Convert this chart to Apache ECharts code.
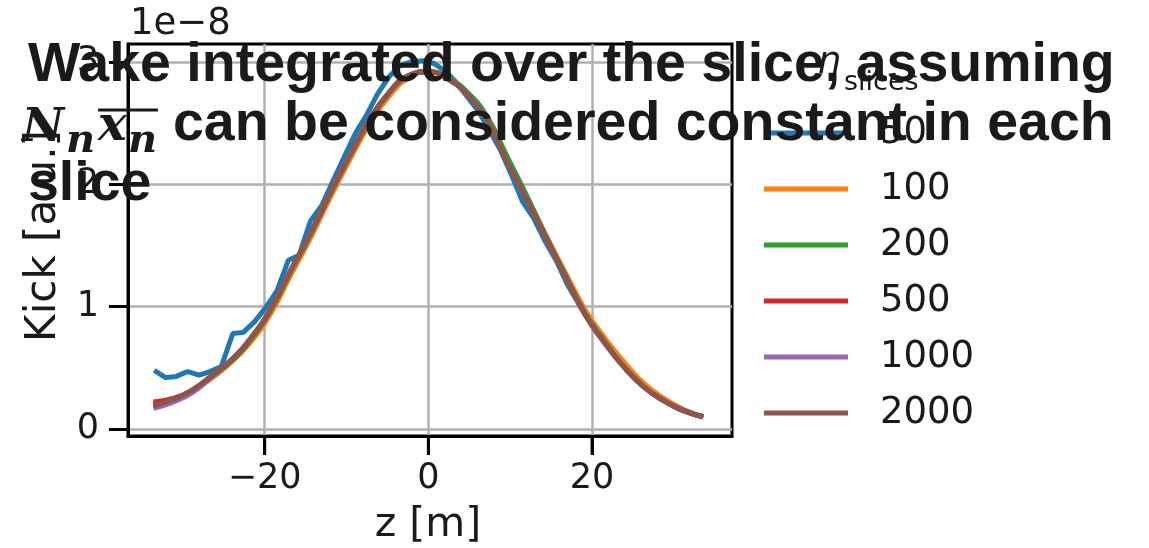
<!DOCTYPE html>
<html>
<head>
<meta charset="utf-8">
<script src="https://cdn.jsdelivr.net/npm/echarts@6/dist/echarts.min.js"></script>
<style>
  html, body { margin: 0; padding: 0; background: #fff; }
  #chart { width: 1149px; height: 548px; }
</style>
</head>
<body>
<div id="chart"></div>
<script>
// Kick along the bunch for several slicings (values in units of 1e-8)
const sliceCounts = ['50', '100', '200', '500', '1000', '2000'];
const seriesColors = ['#1f77b4', '#ff7f0e', '#2ca02c', '#d62728', '#9467bd', '#8c564b'];

// 50 slices: slice centres [m] and kick
const z50 = [-33.5, -32.1, -30.8, -29.4, -28.0, -26.7, -25.3, -23.9, -22.6, -21.2,
             -19.8, -18.5, -17.1, -15.8, -14.4, -13.0, -11.7, -10.3, -8.9, -7.6,
             -6.2, -4.8, -3.5, -2.1, -0.7, 0.6, 2.0, 3.3, 4.7, 6.1,
             7.4, 8.8, 10.2, 11.5, 12.9, 14.3, 15.6, 17.0, 18.4, 19.7,
             21.1, 22.5, 23.8, 25.2, 26.6, 27.9, 29.3, 30.7, 32.0, 33.5];
const kick50 = [0.48, 0.42, 0.43, 0.47, 0.44, 0.47, 0.51, 0.78, 0.79, 0.88,
                1.00, 1.13, 1.38, 1.42, 1.70, 1.83, 2.02, 2.22, 2.42, 2.56,
                2.74, 2.88, 2.97, 3.00, 3.01, 2.99, 2.93, 2.84, 2.72, 2.60,
                2.45, 2.28, 2.07, 1.86, 1.72, 1.53, 1.38, 1.18, 1.02, 0.88,
                0.75, 0.62, 0.52, 0.42, 0.34, 0.28, 0.21, 0.16, 0.13, 0.10];

// finer slicings, sampled on a common set of positions [m]
const zFine = [-33.6, -31.2, -28.8, -26.4, -24.0, -21.6, -19.2, -16.8, -14.4, -12.0,
               -9.6, -7.2, -4.8, -2.4, 0.0, 2.4, 4.8, 7.2, 9.6, 12.0,
               14.4, 16.8, 19.2, 21.6, 24.0, 26.4, 28.8, 31.2, 33.6];
const kick100 = [0.20, 0.24, 0.31, 0.42, 0.55, 0.72, 0.95, 1.26, 1.56, 1.89,
                 2.20, 2.49, 2.72, 2.87, 2.92, 2.87, 2.74, 2.53, 2.21, 1.90,
                 1.58, 1.27, 0.97, 0.74, 0.54, 0.37, 0.25, 0.16, 0.10];
const kick200 = [0.20, 0.24, 0.32, 0.43, 0.56, 0.74, 0.98, 1.29, 1.59, 1.92,
                 2.23, 2.52, 2.75, 2.89, 2.92, 2.87, 2.75, 2.55, 2.23, 1.91,
                 1.57, 1.25, 0.94, 0.71, 0.50, 0.34, 0.23, 0.15, 0.10];
const kick500 = [0.22, 0.25, 0.32, 0.44, 0.57, 0.75, 0.99, 1.30, 1.60, 1.93,
                 2.24, 2.53, 2.75, 2.89, 2.92, 2.86, 2.73, 2.52, 2.19, 1.88,
                 1.56, 1.24, 0.93, 0.70, 0.50, 0.34, 0.23, 0.15, 0.10];
const kick1000 = [0.17, 0.22, 0.30, 0.43, 0.57, 0.75, 0.99, 1.30, 1.60, 1.93,
                  2.24, 2.53, 2.75, 2.89, 2.92, 2.86, 2.73, 2.52, 2.19, 1.88,
                  1.56, 1.24, 0.93, 0.70, 0.50, 0.34, 0.23, 0.15, 0.10];
const kick2000 = [0.19, 0.24, 0.32, 0.44, 0.57, 0.75, 0.99, 1.30, 1.60, 1.93,
                  2.24, 2.53, 2.75, 2.89, 2.92, 2.86, 2.73, 2.52, 2.19, 1.88,
                  1.56, 1.24, 0.93, 0.70, 0.50, 0.34, 0.23, 0.15, 0.10];

const xTicks = [-20, 0, 20];
const yTicks = [0, 1, 2, 3];
const X_RANGE = [-36.7, 37.1];
const Y_RANGE = [-0.057, 3.147];

const pairs = (xs, ys) => xs.map((x, i) => [x, ys[i]]);
const seriesData = [
  pairs(z50, kick50),
  pairs(zFine, kick100),
  pairs(zFine, kick200),
  pairs(zFine, kick500),
  pairs(zFine, kick1000),
  pairs(zFine, kick2000)
];

const TXT = '#1a1a1a';
const SANS = 'DejaVu Sans';
const TICK_LEN = 19;
const minus = v => (v < 0 ? '\u2212' + Math.abs(v) : String(v));

const titleFont = 'bold 55.5px "Liberation Sans", Arial, sans-serif';
const mathFont = s => 'italic bold ' + s + 'px "DejaVu Serif", serif';

const frameLine = { show: true, onZero: false, lineStyle: { color: '#000', width: 3 } };
const tickStyle = { color: '#000', width: 3 };

const chart = echarts.init(document.getElementById('chart'), null, { renderer: 'canvas' });
chart.setOption({
  animation: false,
  backgroundColor: '#fff',
  grid: {
    left: 128, top: 44, width: 604, height: 392,
    show: true, borderColor: '#000', borderWidth: 3, backgroundColor: 'transparent'
  },
  xAxis: {
    type: 'value', position: 'bottom', min: X_RANGE[0], max: X_RANGE[1],
    axisLine: frameLine,
    axisTick: { show: true, inside: false, customValues: xTicks, length: TICK_LEN, lineStyle: tickStyle },
    axisLabel: { customValues: xTicks, formatter: minus, fontFamily: SANS, fontSize: 35, color: TXT, margin: 25 },
    splitLine: { show: true, lineStyle: { color: '#b0b0b0', width: 2.5 } }
  },
  yAxis: {
    type: 'value', position: 'left', min: Y_RANGE[0], max: Y_RANGE[1],
    axisLine: frameLine,
    axisTick: { show: true, inside: false, customValues: yTicks, length: TICK_LEN, lineStyle: tickStyle },
    axisLabel: { customValues: yTicks, formatter: minus, fontFamily: SANS, fontSize: 35, color: TXT, margin: 29 },
    splitLine: { show: true, lineStyle: { color: '#b0b0b0', width: 2.5 } }
  },
  legend: {
    orient: 'vertical', left: 764, top: 114.5, padding: 0,
    itemGap: 19, itemWidth: 84, itemHeight: 5, icon: 'rect',
    selectedMode: false,
    textStyle: { fontFamily: SANS, fontSize: 37, lineHeight: 37, color: TXT, padding: [0, 0, 0, 27] },
    data: sliceCounts
  },
  series: sliceCounts.map((name, i) => ({
    name,
    type: 'line',
    data: seriesData[i],
    showSymbol: false,
    smooth: i > 0,
    color: seriesColors[i],
    lineStyle: { width: 5, color: seriesColors[i] }
  })),
  graphic: [
    // axis annotations
    { id: 'exp', type: 'text', z: 1, x: 130, y: 24, style: { text: '1e\u22128', font: '37px "DejaVu Sans"', fill: TXT, align: 'left', verticalAlign: 'middle' } },
    { id: 'ylab', type: 'text', z: 1, x: 44, y: 236, rotation: Math.PI / 2, style: { text: 'Kick [a.u.]', font: '42px "DejaVu Sans"', fill: TXT, align: 'center', verticalAlign: 'middle' } },
    { id: 'xlab', type: 'text', z: 1, x: 428, y: 525, style: { text: 'z [m]', font: '41px "DejaVu Sans"', fill: TXT, align: 'center', verticalAlign: 'middle' } },
    // legend heading n_slices
    { id: 'lt1', type: 'text', z: 5, x: 818, y: 63, style: { text: 'n', font: 'italic 37px "DejaVu Sans"', fill: TXT, align: 'left', verticalAlign: 'middle' } },
    { id: 'lt2', type: 'text', z: 5, x: 844, y: 82.5, style: { text: 'slices', font: '27px "DejaVu Sans"', fill: TXT, align: 'left', verticalAlign: 'middle' } },
    // title, three lines
    { id: 't1', type: 'text', z: 100, x: 28, y: 66, style: { text: 'Wake integrated over the slice, assuming', font: titleFont, fill: TXT, align: 'left', verticalAlign: 'middle' } },
    { id: 'm1', type: 'text', z: 100, x: 22, y: 129, style: { text: 'N', font: mathFont(46), fill: TXT, align: 'left', verticalAlign: 'middle' } },
    { id: 'm2', type: 'text', z: 100, x: 66, y: 142, style: { text: 'n', font: mathFont(40), fill: TXT, align: 'left', verticalAlign: 'middle' } },
    { id: 'm3', type: 'text', z: 100, x: 98, y: 128, style: { text: 'x', font: mathFont(48), fill: TXT, align: 'left', verticalAlign: 'middle' } },
    { id: 'm4', type: 'text', z: 100, x: 128, y: 142, style: { text: 'n', font: mathFont(40), fill: TXT, align: 'left', verticalAlign: 'middle' } },
    { id: 'm5', type: 'line', z: 100, shape: { x1: 98, y1: 110, x2: 158, y2: 110 }, style: { stroke: TXT, lineWidth: 3 } },
    { id: 't2', type: 'text', z: 100, x: 173, y: 125, style: { text: 'can be considered constant in each', font: titleFont, fill: TXT, align: 'left', verticalAlign: 'middle' } },
    { id: 't3', type: 'text', z: 100, x: 28, y: 185, style: { text: 'slice', font: titleFont, fill: TXT, align: 'left', verticalAlign: 'middle' } }
  ]
});

// bottom tick marks at the labelled z positions, placed through the axis scale
const yBottom = chart.convertToPixel({ yAxisIndex: 0 }, Y_RANGE[0]);
chart.setOption({
  graphic: xTicks.map((v, i) => {
    const px = chart.convertToPixel({ xAxisIndex: 0 }, v);
    return {
      id: 'xtick' + i, type: 'line', z: 50,
      shape: { x1: px, y1: yBottom, x2: px, y2: yBottom + TICK_LEN },
      style: { stroke: '#000', lineWidth: 3 }
    };
  })
});
</script>
</body>
</html>
